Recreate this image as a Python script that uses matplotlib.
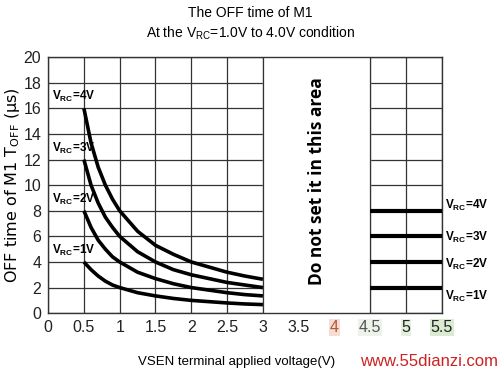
import matplotlib.pyplot as plt

# Data
vsen = [0.5, 0.6, 0.7, 0.8, 0.9, 1.0, 1.25, 1.5, 1.75, 2.0, 2.25, 2.5, 2.75, 3.0]
toff_4v = [16, 13.3, 11.4, 10, 8.9, 8, 6.4, 5.3, 4.6, 4.0, 3.6, 3.2, 2.9, 2.65]
toff_3v = [12, 10, 8.6, 7.5, 6.7, 6, 4.8, 4.0, 3.4, 3.0, 2.7, 2.4, 2.2, 2.0]
toff_2v = [8, 6.7, 5.7, 5, 4.4, 4, 3.2, 2.7, 2.3, 2.0, 1.8, 1.6, 1.45, 1.35]
toff_1v = [4, 3.4, 2.9, 2.5, 2.2, 2, 1.6, 1.35, 1.15, 1.0, 0.9, 0.8, 0.72, 0.67]

curve_labels = ["V$_{RC}$=4V", "V$_{RC}$=3V", "V$_{RC}$=2V", "V$_{RC}$=1V"]
right_x = [4.5, 5.5]
right_levels = [8, 6, 4, 2]
xticks = [0, 0.5, 1, 1.5, 2, 2.5, 3, 3.5, 4, 4.5, 5, 5.5]
xtick_labels = ["0", "0.5", "1", "1.5", "2", "2.5", "3", "3.5", "4", "4.5", "5", "5.5"]
yticks = list(range(0, 21, 2))

plt.rcParams['font.family'] = ['Liberation Sans', 'DejaVu Sans']
plt.rcParams['mathtext.default'] = 'regular'

fig = plt.figure(figsize=(5.01, 3.81), dpi=100)
ax = fig.add_axes([0.096, 0.178, 0.786, 0.672])

ax.set_xlim(0, 5.5)
ax.set_ylim(0, 20)
ax.set_xticks(xticks)
ax.set_xticklabels(xtick_labels)
ax.set_yticks(yticks)
ax.tick_params(length=0, labelsize=11.5, pad=5, colors='#222222')
ax.grid(True, color='#333333', lw=0.9)
ax.set_axisbelow(True)
for s in ax.spines.values():
    s.set_color('#333333')
    s.set_linewidth(1.0)

# white "do not set" region
ax.axvspan(3, 4.5, color='white', zorder=1)
ax.axvline(3, color='#333333', lw=0.9, zorder=1.5)
ax.axvline(4.5, color='#333333', lw=0.9, zorder=1.5)
ax.text(3.75, 10.3, "Do not set it in this area", rotation=90, ha='center', va='center',
        fontsize=12.5, fontweight='bold', family=['Open Sans', 'DejaVu Sans'], zorder=3)

# curves
for ys, lab in zip([toff_4v, toff_3v, toff_2v, toff_1v], curve_labels):
    ax.plot(vsen, ys, color='black', lw=2.6, zorder=3, solid_capstyle='butt')
    ax.text(0.06, ys[0] + 0.9, lab, fontsize=8.5, fontweight='bold', ha='left', va='center', zorder=4)

# right side horizontal lines
right_label_y = [8.4, 5.9, 3.8, 1.3]
for lev, lab, ly in zip(right_levels, curve_labels, right_label_y):
    ax.plot(right_x, [lev, lev], color='black', lw=3, zorder=3, solid_capstyle='butt')
    ax.text(5.54, ly, lab, fontsize=8.5, fontweight='bold', ha='left', va='center', clip_on=False)

# odd coloured tick labels
tl = ax.get_xticklabels()
tl[8].set_color('#b5553a')
tl[8].set_bbox(dict(facecolor='#f6ddd3', edgecolor='none', pad=0.5))
tl[9].set_color('#555555')
tl[9].set_bbox(dict(facecolor='#eef3ea', edgecolor='none', pad=0.5))
tl[10].set_bbox(dict(facecolor='#e3f0dd', edgecolor='none', pad=0.5))
tl[11].set_bbox(dict(facecolor='#d9ecd2', edgecolor='none', pad=0.5))

ax.set_ylabel("OFF time of M1 T$_{OFF}$ (μs)", fontsize=11.5, family=['DejaVu Sans'], labelpad=1)
fig.text(0.473, 0.05, "VSEN terminal applied voltage(V)", ha='center', va='center', fontsize=9.5)

fig.text(0.5, 0.965, "The OFF time of M1", ha='center', va='center', fontsize=10)
fig.text(0.5, 0.912, "At the V$_{RC}$=1.0V to 4.0V condition", ha='center', va='center', fontsize=10)

fig.text(0.995, 0.05, "www.55dianzi.com", ha='right', va='center', fontsize=12, color='#cc2222')

fig.savefig("out.png", dpi=100)
